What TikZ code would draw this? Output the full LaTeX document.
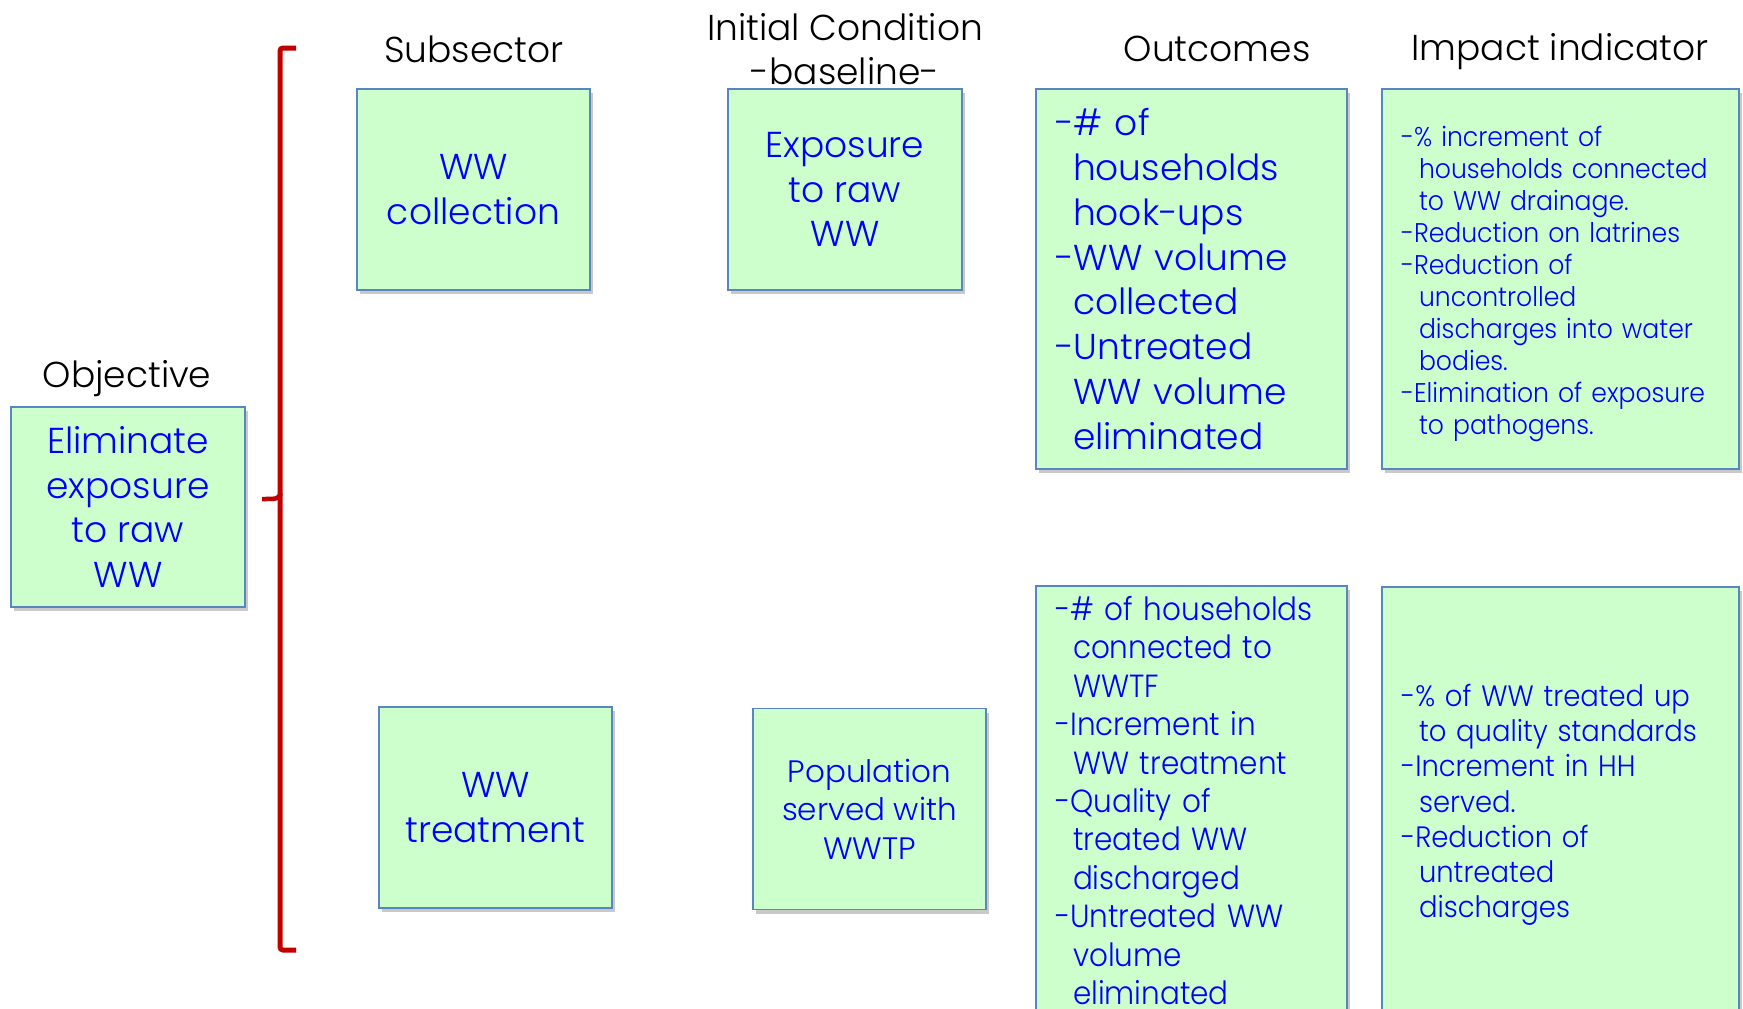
\documentclass[tikz,border=0pt]{standalone}
\usepackage{fontspec}
\setmainfont{Poppins Light}
\newfontfamily\condfont[FakeStretch=0.93]{Poppins Light}
\newfontfamily\condfontb[FakeStretch=0.92]{Poppins Light}
\usetikzlibrary{shadows}
\definecolor{boxfill}{HTML}{CCFFCC}
\definecolor{boxline}{HTML}{5A86C0}
\definecolor{txtblue}{HTML}{0000FF}
\definecolor{bracered}{HTML}{C00000}
\newcommand\hind{\hspace*{18pt}}
\begin{document}
\begin{tikzpicture}[x=1pt,y=-1pt,
  box/.style={draw=boxline, line width=1.6pt, fill=boxfill,
    drop shadow={shadow xshift=3pt, shadow yshift=-4pt, opacity=0.35, fill=black!60},
    text=txtblue, inner sep=0pt, align=center},
  bigtxt/.style={font=\fontsize{36}{44.8}\selectfont},
  title/.style={text=black, align=center, font=\fontsize{36}{44}\selectfont}
]
\clip (0,0) rectangle (1743,1009);
\useasboundingbox (0,0) rectangle (1743,1009);
\fill[white] (0,0) rectangle (1743,1009);

% titles
\node[title] (tobj) at (127,379) {Objective};
\node[title] (tsub) at (474,49) {Subsector};
\node[title] (tini) at (845,49) {Initial Condition\\-baseline-};
\node[title] (tout) at (1217,49) {Outcomes};
\node[title] (timp) at (1560,52) {Impact indicator};

% left column
\node[box, bigtxt, minimum width=234pt, minimum height=200pt] (obj) at (128,507)
  {Eliminate\\exposure\\to raw\\WW};

% brace
\draw[bracered, line width=5pt, rounded corners=3pt] (296,48) -- (280,48) -- (280,950) -- (296,950);
\draw[bracered, line width=4.5pt] (281,493) .. controls (278,499) .. (262,499);

% top row
\node[box, bigtxt, minimum width=233pt, minimum height=201pt] (wwc) at (473.5,189.5)
  {WW\\collection};
\node[box, bigtxt, minimum width=234pt, minimum height=201pt] (exp) at (845,189.5)
  {Exposure\\to raw\\WW};
\node[box, bigtxt, minimum width=311pt, minimum height=380pt, text width=273pt,
  inner xsep=19pt, align=left] (out1) at (1191.5,279)
  {-\# of\\\hind households\\\hind hook-ups\\-WW volume\\\hind collected\\-Untreated\\\hind WW volume\\\hind eliminated};
\node[box, font=\condfont\fontsize{27}{32}\selectfont, minimum width=357pt, minimum height=380pt,
  text width=319pt, inner xsep=19pt, align=left] (imp1) at (1560.5,279)
  {\rule{0pt}{30pt}-\% increment of\\\hind households connected\\\hind to WW drainage.\\-Reduction on latrines\\-Reduction of\\\hind uncontrolled\\\hind discharges into water\\\hind bodies.\\-Elimination of exposure\\\hind to pathogens.};

% bottom row
\node[box, bigtxt, minimum width=233pt, minimum height=201pt] (wwt) at (495.5,807.5)
  {WW\\treatment};
\node[box, font=\fontsize{31}{38.4}\selectfont, minimum width=233pt, minimum height=201pt] (pop) at (869.5,809)
  {Population\\served with\\WWTP};
\node[box, font=\condfontb\fontsize{32}{38.4}\selectfont, minimum width=311pt, minimum height=429pt,
  text width=273pt, inner xsep=19pt, align=left] (out2) at (1191.5,800.5)
  {-\# of households\\\hind connected to\\\hind WWTF\\-Increment in\\\hind WW treatment\\-Quality of\\\hind treated WW\\\hind discharged\\-Untreated WW\\\hind volume\\\hind eliminated};
\node[box, font=\condfont\fontsize{29.5}{35.2}\selectfont, minimum width=357pt, minimum height=428pt,
  text width=319pt, inner xsep=19pt, align=left] (imp2) at (1560.5,801)
  {\rule{0pt}{30pt}-\% of WW treated up\\\hind to quality standards\\-Increment in HH\\\hind served.\\-Reduction of\\\hind untreated\\\hind discharges};
\end{tikzpicture}
\end{document}
